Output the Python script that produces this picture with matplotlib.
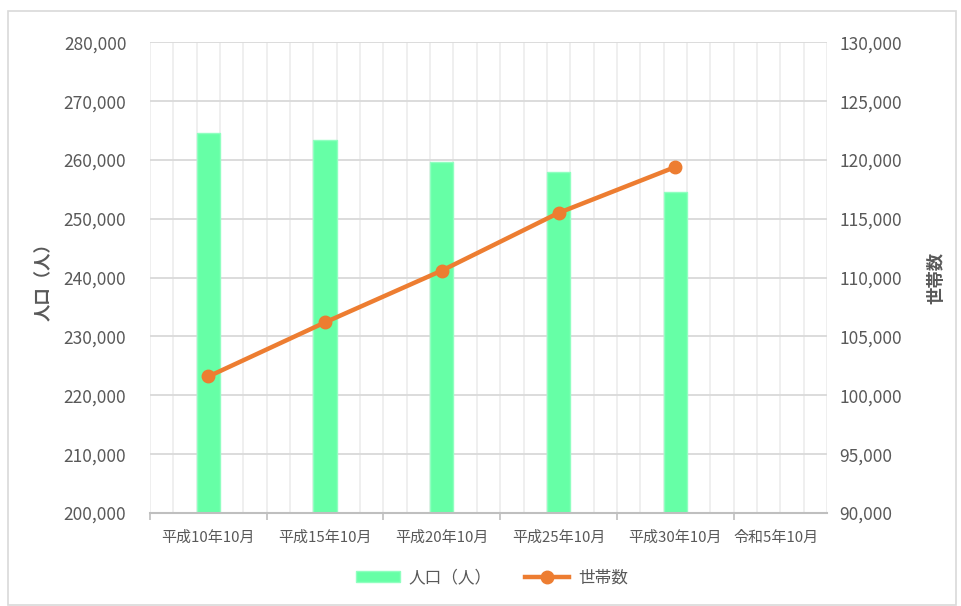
import numpy as np
import matplotlib
matplotlib.use("Agg")
import matplotlib.pyplot as plt
from matplotlib.patches import Rectangle
from matplotlib.ticker import FuncFormatter
from matplotlib.transforms import ScaledTranslation

plt.rcParams['font.family'] = ['Noto Sans CJK JP', 'DejaVu Sans']

# data
labels = ['平成10年10月', '平成15年10月', '平成20年10月', '平成25年10月', '平成30年10月', '令和5年10月']
years = [1998, 2003, 2008, 2013, 2018, 2023]
population = [264600, 263400, 259600, 258000, 254600]
households = [101600, 106200, 110600, 115500, 119400]

GREEN = '#66ffa6'
ORANGE = '#ed7d31'
TXT = '#595959'

fig = plt.figure(figsize=(9.61, 6.06), dpi=100)
fig.patches.append(Rectangle((8 / 961, 1 / 606), 948 / 961, 594 / 606, transform=fig.transFigure,
                             fill=False, edgecolor='#d9d9d9', linewidth=1.2))

ax = fig.add_axes([150 / 961, 1 - 513 / 606, 677 / 961, (513 - 42.3) / 606])
ax2 = ax.twinx()

x0, x1 = years[0] - 2.5, years[-1] + 1.5

# vertical grid, one line per year
for gx in np.arange(x0, x1 + 0.01, 1.0):
    ax.axvline(gx, color='#ebebeb', linewidth=1.1, zorder=0)

ax.bar(years[:len(population)], population, width=1.0, color=GREEN, edgecolor='#90ffc0',
       linewidth=1, zorder=2, label='人口（人）')
ax2.plot(years[:len(households)], households, color=ORANGE, linewidth=3.2, marker='o',
         markersize=9, label='世帯数', zorder=3)

ax.set_xlim(x0, x1)
ax.set_ylim(200000, 280000)
ax.set_yticks(np.arange(200000, 280001, 10000))
ax2.set_ylim(90000, 130000)
ax2.set_yticks(np.arange(90000, 130001, 5000))
fmt = FuncFormatter(lambda v, p: f'{int(v):,}')
ax.yaxis.set_major_formatter(fmt)
ax2.yaxis.set_major_formatter(fmt)

ax.yaxis.grid(True, color='#d9d9d9', linewidth=1.3, zorder=0)
ax.set_axisbelow(True)

# tick marks between the groups, labels centred under them
ax.set_xticks(np.arange(x0, years[-1], 5.0))
ax.set_xticklabels([])
ax.tick_params(axis='x', which='major', length=5, width=1.2, color='#bfbfbf')
ax.set_xticks(years, labels, minor=True)
ax.tick_params(axis='x', which='minor', length=0, pad=13, labelsize=10.8, labelcolor=TXT)
last = ax.xaxis.get_minor_ticks()[-1].label1
last.set_transform(last.get_transform() + ScaledTranslation(-0.16, 0, fig.dpi_scale_trans))

ax.tick_params(axis='y', length=0, pad=17, labelsize=12.5, labelcolor=TXT)
ax2.tick_params(axis='y', length=0, pad=9, labelsize=12.5, labelcolor=TXT)

for a in (ax, ax2):
    for s in ('left', 'right', 'top'):
        a.spines[s].set_visible(False)
ax.spines['bottom'].set_color('#bfbfbf')
ax.spines['bottom'].set_linewidth(1.5)
ax2.spines['bottom'].set_visible(False)

ax.set_ylabel('人口（人）', fontsize=12.5, color=TXT, fontweight='bold', labelpad=8)
ax2.set_ylabel('世帯数', fontsize=12.5, color=TXT, fontweight='bold', rotation=90, labelpad=18)

h1, l1 = ax.get_legend_handles_labels()
h2, l2 = ax2.get_legend_handles_labels()
fig.legend(h1 + h2, l1 + l2, loc='center', bbox_to_anchor=(492 / 961, 1 - 578 / 606), ncol=2,
           frameon=False, fontsize=12, labelcolor=TXT, handlelength=2.6, handleheight=0.6,
           columnspacing=2.0, handletextpad=0.55)

fig.savefig('out.png', dpi=100)
